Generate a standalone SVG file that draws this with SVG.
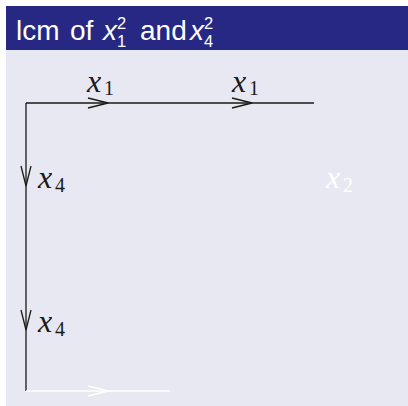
<svg xmlns="http://www.w3.org/2000/svg" width="408" height="406" viewBox="0 0 408 406">
<style>
.hd{font-family:"Liberation Sans",Arial,sans-serif;fill:#ffffff;font-size:28px}
.hs{font-family:"Liberation Sans",Arial,sans-serif;fill:#ffffff;font-size:16.5px}
.mx{font-family:"Liberation Serif",serif;font-style:italic;font-size:32px}
.md{font-family:"Liberation Serif",serif;font-size:20px}
.blk{fill:#1a1a1a}
.wht{fill:#ffffff}
.e{fill:none;stroke-width:1.3}
.eb{stroke:#1a1a1a}
.ew{stroke:#ffffff}
</style>
<defs>
<marker id="ab" markerUnits="userSpaceOnUse" markerWidth="24" markerHeight="14" viewBox="-22 -7 24 14" refX="0" refY="0" orient="auto">
<path d="M-20,-5 L0,0 L-20,5" fill="none" stroke="#1a1a1a" stroke-width="1.3"/>
</marker>
<marker id="aw" markerUnits="userSpaceOnUse" markerWidth="24" markerHeight="14" viewBox="-22 -7 24 14" refX="0" refY="0" orient="auto">
<path d="M-20,-5 L0,0 L-20,5" fill="none" stroke="#ffffff" stroke-width="1.3"/>
</marker>
</defs>
<rect x="6" y="6" width="402" height="44" fill="#262884"/>
<rect x="6" y="50" width="402" height="356" fill="#e8e8f2"/>
<g id="title">
<text class="hd" x="16" y="40">lcm</text>
<text class="hd" x="70" y="40">of</text>
<text class="hd" x="103" y="40" font-style="italic">x</text>
<text class="hs" x="117" y="28.5">2</text>
<text class="hs" x="117" y="47">1</text>
<text class="hd" x="140" y="40">and</text>
<text class="hd" x="190" y="40" font-style="italic">x</text>
<text class="hs" x="204" y="28.5">2</text>
<text class="hs" x="204" y="47">4</text>
</g>
<g id="connectors">
<path class="e eb" d="M26,103 L108,103 L170,103" marker-mid="url(#ab)"/>
<path class="e eb" d="M170,103 L252,103 L314,103" marker-mid="url(#ab)"/>
<path class="e eb" d="M26,103 L26,186 L26,247" marker-mid="url(#ab)"/>
<path class="e eb" d="M26,247 L26,330 L26,391" marker-mid="url(#ab)"/>
<path class="e ew" d="M26,391 L108,391 L170,391" marker-mid="url(#aw)"/>
</g>
<g id="label-x1-a">
<text class="mx blk" x="87" y="92">x</text>
<text class="md blk" x="104" y="95">1</text>
</g>
<g id="label-x1-b">
<text class="mx blk" x="232" y="92">x</text>
<text class="md blk" x="249" y="95">1</text>
</g>
<g id="label-x4-a">
<text class="mx blk" x="38" y="188">x</text>
<text class="md blk" x="55" y="192">4</text>
</g>
<g id="label-x4-b">
<text class="mx blk" x="38" y="332">x</text>
<text class="md blk" x="55" y="336">4</text>
</g>
<g id="label-x2">
<text class="mx wht" x="326" y="188">x</text>
<text class="md wht" x="343" y="192">2</text>
</g>
</svg>
